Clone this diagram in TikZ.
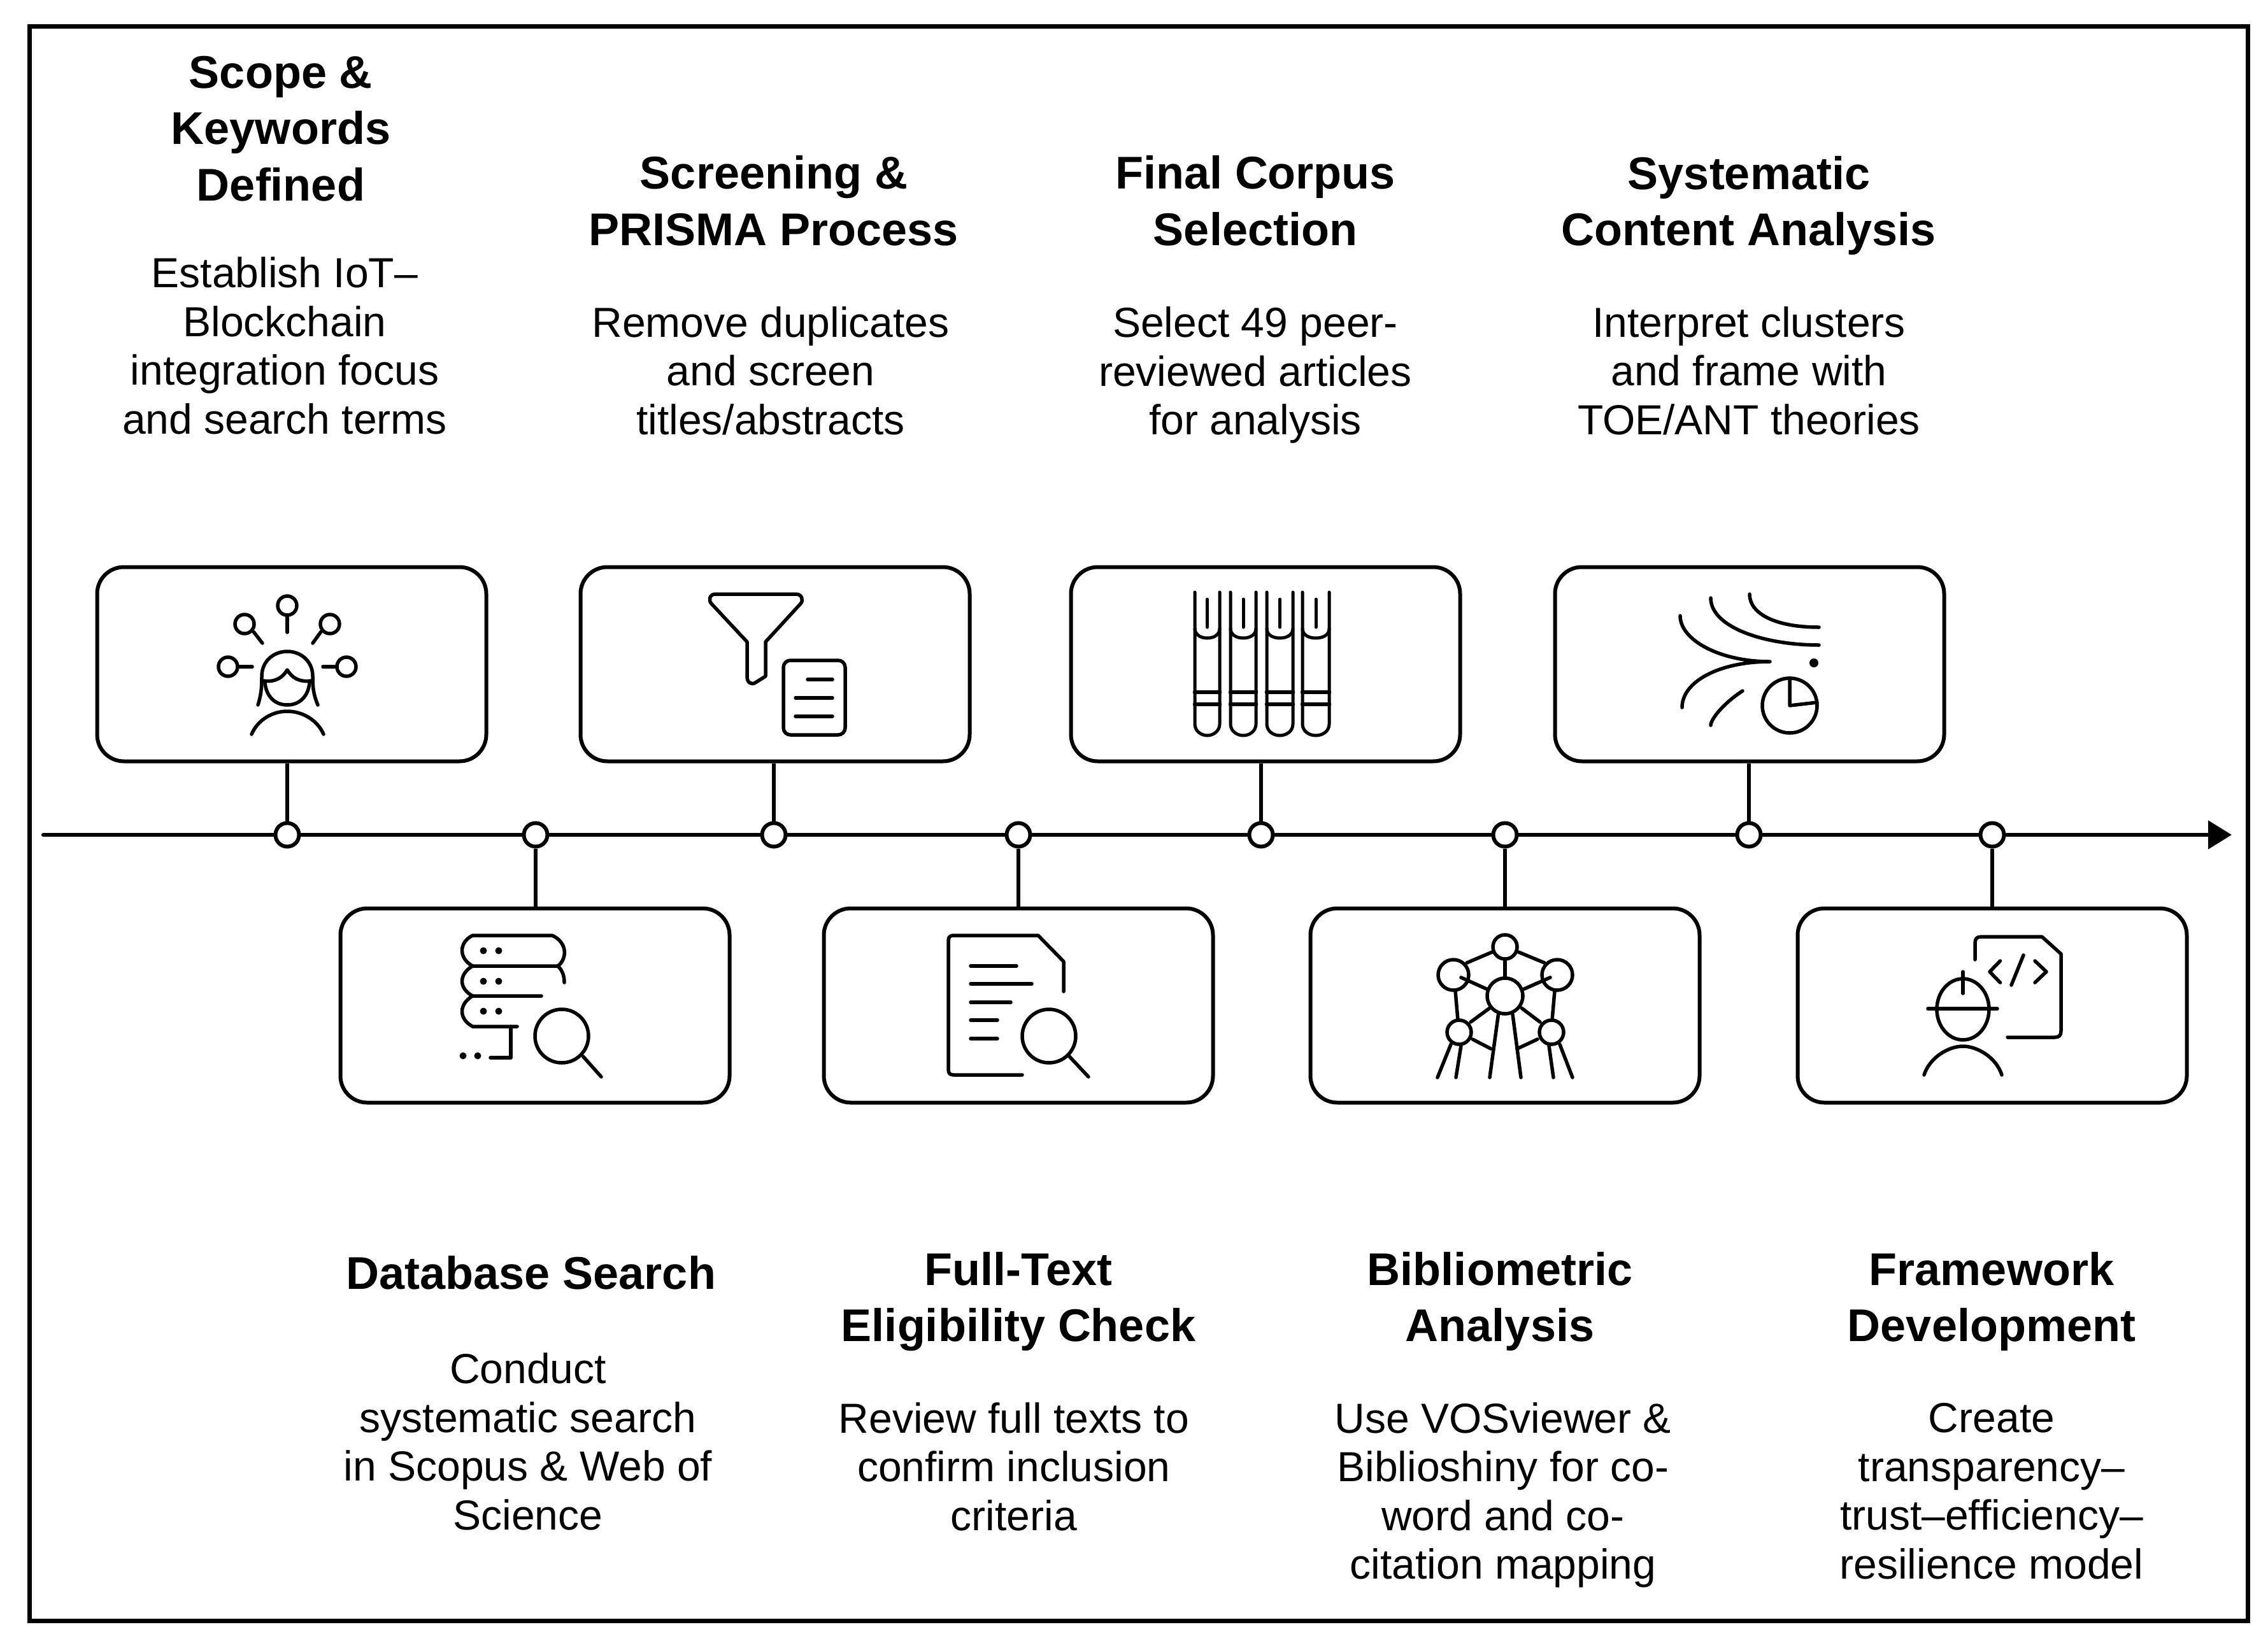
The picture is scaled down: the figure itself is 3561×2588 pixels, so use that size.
\documentclass[tikz,border=0pt]{standalone}
\usepackage{fontspec}
\setmainfont{Liberation Sans}
\usetikzlibrary{arrows.meta}
\tikzset{
  ttl/.style={align=center,inner sep=0pt,font=\bfseries\fontsize{72}{88.6}\selectfont},
  dsc/.style={align=center,inner sep=0pt,font=\fontsize{66}{76.5}\selectfont},
  card/.style={draw=black,line width=6pt,rounded corners=42pt,minimum width=611pt,minimum height=305pt,inner sep=0pt,fill=white},
  dotnode/.style={circle,draw=black,line width=6pt,fill=white,minimum size=37pt,inner sep=0pt},
  stem/.style={line width=6pt,draw=black},
  ico/.style={line width=5.5pt,draw=black,line cap=round,line join=round}
}
\begin{document}
\begin{tikzpicture}[x=1pt,y=-1pt]
\useasboundingbox (0,0) rectangle (3561,2588);
\fill[white] (0,0) rectangle (3561,2588);
\draw[line width=7pt,miter limit=10] (46,41.5) rectangle (3529,2545.5);
% timeline
\coordinate (tstart) at (68,1311);
\coordinate (tend) at (3504,1311);
\draw[line width=6pt,line cap=round,-{Triangle[length=37pt,width=44pt]}] (tstart) -- (tend);
% dots
\node[dotnode] (c1) at (451,1311) {};
\node[dotnode] (c2) at (841,1311) {};
\node[dotnode] (c3) at (1215,1311) {};
\node[dotnode] (c4) at (1599,1311) {};
\node[dotnode] (c5) at (1980,1311) {};
\node[dotnode] (c6) at (2363,1311) {};
\node[dotnode] (c7) at (2746,1311) {};
\node[dotnode] (c8) at (3128,1311) {};
% cards
\node[card] (b1) at (458,1043) {};
\node[card] (b3) at (1217,1043) {};
\node[card] (b5) at (1987,1043) {};
\node[card] (b7) at (2747,1043) {};
\node[card] (b2) at (840,1579) {};
\node[card] (b4) at (1599,1579) {};
\node[card] (b6) at (2363,1579) {};
\node[card] (b8) at (3128,1579) {};
% stems
\draw[stem] (c1 |- b1.south) -- (c1);
\draw[stem] (c3 |- b3.south) -- (c3);
\draw[stem] (c5 |- b5.south) -- (c5);
\draw[stem] (c7 |- b7.south) -- (c7);
\draw[stem] (c2 |- b2.north) -- (c2);
\draw[stem] (c4 |- b4.north) -- (c4);
\draw[stem] (c6 |- b6.north) -- (c6);
\draw[stem] (c8 |- b8.north) -- (c8);
% titles
\node[ttl] (t1) at (441,202) {Scope \&\\Keywords\\Defined};
\node[ttl] (t3) at (1215,315) {Screening \&\\PRISMA Process};
\node[ttl] (t5) at (1971,315) {Final Corpus\\Selection};
\node[ttl] (t7) at (2746,323) {Systematic\\Content Analysis};
\node[ttl] (t2) at (834,1999) {Database Search};
\node[ttl] (t4) at (1599,2044) {Full-Text\\Eligibility Check};
\node[ttl] (t6) at (2355,2044) {Bibliometric\\Analysis};
\node[ttl] (t8) at (3127,2044) {Framework\\Development};
% descriptions
\node[dsc] (d1) at (447,543) {Establish IoT–\\Blockchain\\integration focus\\and search terms};
\node[dsc] (d3) at (1210,582) {Remove duplicates\\and screen\\titles/abstracts};
\node[dsc] (d5) at (1971,589) {Select 49 peer-\\reviewed articles\\for analysis};
\node[dsc] (d7) at (2746,582) {Interpret clusters\\and frame with\\TOE/ANT theories};
\node[dsc] (d2) at (829,2264) {Conduct\\systematic search\\in Scopus \& Web of\\Science};
\node[dsc] (d4) at (1592,2303) {Review full texts to\\confirm inclusion\\criteria};
\node[dsc] (d6) at (2360,2348) {Use VOSviewer \&\\Biblioshiny for co-\\word and co-\\citation mapping};
\node[dsc] (d8) at (3127,2342) {Create\\transparency–\\trust–efficiency–\\resilience model};
% icon 1 person
\begin{scope}[ico]
\draw (451,951) circle[radius=15];
\draw (451,967) -- (451,993);
\draw (384,980) circle[radius=15];
\draw (398,992) -- (412,1010);
\draw (518,980) circle[radius=15];
\draw (504,992) -- (491,1010);
\draw (358,1047) circle[radius=15];
\draw (376,1047) -- (396,1047);
\draw (544,1047) circle[radius=15];
\draw (527,1047) -- (507,1047);
\draw (405,1107) .. controls (411,1088) and (411,1075) .. (411,1062) .. controls (411,1038) and (430,1023) .. (451,1023) .. controls (472,1023) and (491,1038) .. (491,1062) .. controls (491,1075) and (491,1088) .. (499,1107);
\draw (413,1069) .. controls (432,1072) and (444,1064) .. (451,1052) .. controls (458,1064) and (470,1072) .. (489,1069);
\draw (416,1072) .. controls (418,1094) and (432,1107) .. (451,1107) .. controls (470,1107) and (484,1094) .. (486,1072);
\draw (395,1153) .. controls (405,1130) and (428,1117) .. (451,1117) .. controls (474,1117) and (498,1130) .. (508,1153);
\end{scope}
% icon 2 funnel
\begin{scope}[ico]
\draw (1123,933) -- (1250,933) .. controls (1259,933) and (1262,943) .. (1257,948) -- (1202,1008) -- (1202,1062) -- (1186,1072) .. controls (1180,1076) and (1173,1072) .. (1173,1063) -- (1173,1008) -- (1117,948) .. controls (1112,943) and (1114,933) .. (1123,933) -- cycle;
\draw[rounded corners=11pt] (1230,1037) rectangle (1327,1154);
\draw (1268,1067) -- (1307,1067);
\draw (1249,1096) -- (1307,1096);
\draw (1249,1125) -- (1307,1125);
\end{scope}
% icon 3 tubes
\begin{scope}[ico,line width=5pt]
\foreach \l/\r in {1876/1915,1932/1972,1989/2030,2045/2087}{
  \draw (\l,930) -- (\l,1137) .. controls (\l,1148) and (\l+10,1155) .. ({(\l+\r)/2},1155) .. controls (\r-10,1155) and (\r,1148) .. (\r,1137) -- (\r,930);
  \draw (\l,987) .. controls (\l,996) and (\l+8,1002) .. ({(\l+\r)/2},1002) .. controls (\r-8,1002) and (\r,996) .. (\r,987);
  \draw ({(\l+\r)/2},941) -- ({(\l+\r)/2},985);
  \draw[line width=6.5pt] (\l,1087) -- (\r,1087);
  \draw[line width=6.5pt] (\l,1106) -- (\r,1106);
}
\end{scope}
% icon 4 flows
\begin{scope}[ico]
\draw (2747,933) .. controls (2747,965) and (2790,985) .. (2856,985);
\draw (2686,939) .. controls (2686,985) and (2770,1013) .. (2856,1013);
\draw (2638,967) .. controls (2638,1005) and (2700,1039) .. (2779,1039) .. controls (2700,1039) and (2641,1070) .. (2641,1111);
\draw (2736,1085) .. controls (2705,1105) and (2686,1130) .. (2686,1139);
\fill (2848,1041) circle[radius=7];
\draw (2810,1108) circle[radius=43];
\draw (2810,1065) -- (2810,1108) -- (2853,1103);
\end{scope}
% icon db
\begin{scope}[ico]
\draw (742,1469) -- (867,1469) .. controls (891,1480) and (891,1505) .. (876,1517) -- (742,1517) .. controls (720,1505) and (720,1480) .. (742,1469) -- cycle;
\draw (742,1517) .. controls (720,1530) and (720,1552) .. (742,1564) -- (850,1564);
\draw (876,1517) .. controls (884,1525) and (886,1534) .. (886,1543);
\draw (742,1564) .. controls (720,1577) and (720,1600) .. (742,1612) -- (812,1612);
\draw (802,1612) -- (802,1661) -- (770,1661);
\foreach \p in {(759,1493),(783,1493),(759,1541),(783,1541),(759,1588),(783,1588),(727,1658),(750,1658)}{\fill \p circle[radius=5.5];}
\draw (882,1627) circle[radius=42];
\draw (915.5,1659) -- (944,1691);
\end{scope}
% icon doc
\begin{scope}[ico]
\draw (1670,1557) -- (1670,1510) -- (1630,1469) -- (1497,1469) .. controls (1491,1469) and (1489,1472) .. (1489,1478) -- (1489,1679) .. controls (1489,1685) and (1491,1688) .. (1497,1688) -- (1605,1688);
\draw (1524,1517) -- (1596,1517);
\draw (1524,1545) -- (1620,1545);
\draw (1524,1574) -- (1587,1574);
\draw (1524,1602) -- (1566,1602);
\draw (1524,1631) -- (1566,1631);
\draw (1647,1627) circle[radius=42];
\draw (1679,1659) -- (1709,1691);
\end{scope}
% icon atomium
\begin{scope}[ico]
\draw (2363,1487) circle[radius=19];
\draw (2282,1531) circle[radius=24];
\draw (2445,1531) circle[radius=24];
\draw (2363,1564) circle[radius=28];
\draw (2291,1621) circle[radius=19];
\draw (2436,1621) circle[radius=19];
\draw (2343,1495) -- (2303,1512);
\draw (2384,1495) -- (2425,1512);
\draw (2363,1507) -- (2363,1535);
\draw (2294,1535) -- (2334,1553);
\draw (2434,1535) -- (2393,1553);
\draw (2285,1556) -- (2289,1602);
\draw (2441,1556) -- (2437,1602);
\draw (2339,1583) -- (2309,1605);
\draw (2389,1583) -- (2418,1605);
\draw (2352.5,1593) -- (2339,1692);
\draw (2375,1593) -- (2388,1692);
\draw (2312,1632) -- (2341,1647);
\draw (2414,1632) -- (2382,1647);
\draw (2278,1640) -- (2257,1692);
\draw (2294,1642) -- (2286,1692);
\draw (2432,1642) -- (2439,1692);
\draw (2449,1640) -- (2469,1692);
\end{scope}
% icon developer
\begin{scope}[ico]
\draw (3082,1585) circle[x radius=41,y radius=48];
\draw (3082,1526) -- (3082,1560);
\draw (3027,1584) -- (3136,1584);
\draw (3021,1688) .. controls (3030,1660) and (3060,1643) .. (3082,1643) .. controls (3104,1643) and (3134,1660) .. (3143,1688);
\draw (3101,1507) -- (3101,1481) .. controls (3101,1474) and (3104,1471) .. (3111,1471) -- (3206,1471) -- (3236,1498) -- (3236,1619) .. controls (3236,1626) and (3233,1629) .. (3226,1629) -- (3152,1629);
\draw (3140.5,1509) -- (3124,1526) -- (3140.5,1543);
\draw (3177,1500) -- (3158,1547);
\draw (3195,1509) -- (3213,1526) -- (3195,1543);
\end{scope}
\end{tikzpicture}
\end{document}
